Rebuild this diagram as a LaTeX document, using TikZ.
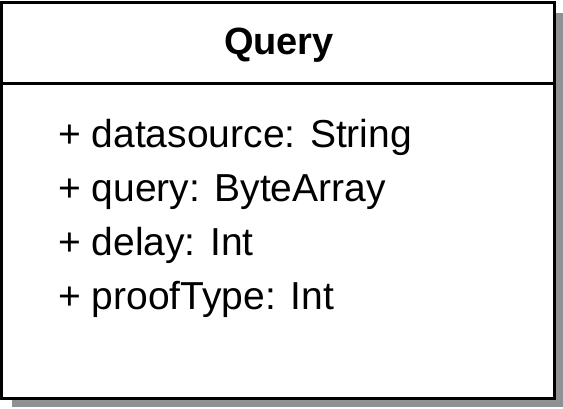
\documentclass[tikz,border=0pt]{standalone}
\usepackage{fontspec}
\setmainfont{Liberation Sans}
\definecolor{shadowgray}{RGB}{145,145,148}
\begin{document}
\begin{tikzpicture}[x=1pt,y=-1pt,
  attr/.style={anchor=base west,inner sep=0pt,font=\fontsize{39}{48}\selectfont},
  titlestyle/.style={anchor=base,inner sep=0pt,font=\bfseries\fontsize{38}{44}\selectfont}]
\useasboundingbox (0,0) rectangle (563,409);
\fill[shadowgray] (12,13) rectangle (563,407);
\draw[line width=3pt,fill=white] (1.5,2.5) rectangle (554,398);
\draw[line width=3pt] (1.5,84) -- (554,84);
\node[titlestyle] (title) at (279,55) {Query};
\node[attr] (a1) at (58,148) {+ datasource: String};
\node[attr] (a2) at (58,202) {+ query: ByteArray};
\node[attr] (a3) at (58,256) {+ delay: Int};
\node[attr] (a4) at (58,309) {+ proofType: Int};
\end{tikzpicture}
\end{document}
